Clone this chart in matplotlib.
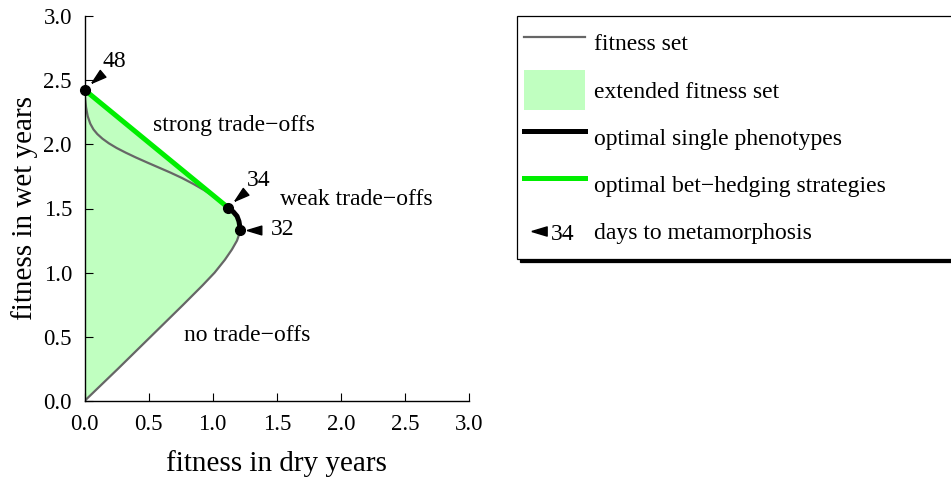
import matplotlib
matplotlib.use("Agg")
import matplotlib.pyplot as plt
from matplotlib.lines import Line2D
from matplotlib.patches import Patch
from matplotlib.markers import MarkerStyle
from matplotlib.transforms import Affine2D, offset_copy
from matplotlib.legend_handler import HandlerBase
from matplotlib.text import Text

plt.rcParams["font.family"] = ["Liberation Serif", "DejaVu Serif"]

# ── Fitness set ──────────────────────────────────────────
# upper branch: 48 days -> 34 days
upper_x = [0.0, 0.004, 0.012, 0.025, 0.045, 0.07, 0.10, 0.14, 0.19, 0.25, 0.32,
           0.40, 0.49, 0.58, 0.67, 0.76, 0.85, 0.93, 1.00, 1.06, 1.12]
upper_y = [2.425, 2.361, 2.289, 2.219, 2.161, 2.116, 2.080, 2.044, 2.008, 1.972, 1.936,
           1.898, 1.858, 1.819, 1.780, 1.738, 1.691, 1.645, 1.599, 1.556, 1.507]
# optimal single phenotypes: 34 days -> 32 days
single_x = [1.12, 1.16, 1.19, 1.205, 1.21, 1.213]
single_y = [1.507, 1.475, 1.44, 1.40, 1.37, 1.333]
# lower branch: 32 days -> origin
lower_x = [1.213, 1.207, 1.19, 1.15, 1.095, 1.015, 0.92, 0.77, 0.515, 0.26, 0.0]
lower_y = [1.333, 1.30, 1.25, 1.18, 1.10, 1.00, 0.90, 0.75, 0.50, 0.25, 0.0]

# days to metamorphosis markers
days = [48, 34, 32]
day_x = [0.0, 1.12, 1.213]
day_y = [2.425, 1.507, 1.333]

# region labels
region_text = ["strong trade\u2212offs", "weak trade\u2212offs", "no trade\u2212offs"]
region_x = [1.166, 2.12, 1.27]
region_y = [2.15, 1.567, 0.51]

GREEN_FILL = "#c0ffc0"
GREEN_LINE = "#00ee00"
GREY = "#666666"


def arrowhead(angle):
    verts = [(-1, 0), (1, 0.6), (1, -0.6), (-1, 0)]
    return MarkerStyle(verts, transform=Affine2D().rotate_deg(angle))


class DaysKey:
    pass


class DaysHandler(HandlerBase):
    def create_artists(self, legend, orig_handle, xdescent, ydescent,
                       width, height, fontsize, trans):
        yc = height / 2 - ydescent
        mark = Line2D([0.24 * width - xdescent], [yc], marker=arrowhead(0), ms=11,
                      color="black", ls="none", transform=trans)
        txt = Text(0.44 * width - xdescent, yc - 0.15 * fontsize, "34", fontsize=fontsize,
                   ha="left", va="center", transform=trans)
        return [mark, txt]


fig = plt.figure(figsize=(9.51, 4.79), dpi=100)
ax = fig.add_axes([84.5 / 951, 78 / 479, 384.5 / 951, 385 / 479])

# extended fitness set
fill_x = lower_x[::-1] + single_x[::-1][1:] + [0.0]
fill_y = lower_y[::-1] + single_y[::-1][1:] + [upper_y[0]]
ax.fill(fill_x, fill_y, color=GREEN_FILL, lw=0, zorder=1)

# fitness set curve
curve_x = upper_x + single_x[1:] + lower_x[1:]
curve_y = upper_y + single_y[1:] + lower_y[1:]
ax.plot(curve_x, curve_y, color=GREY, lw=1.6, zorder=2)

# bet-hedging line and optimal single phenotypes
ax.plot([day_x[0], day_x[1]], [day_y[0], day_y[1]], color=GREEN_LINE, lw=3.6,
        solid_capstyle="butt", zorder=3)
ax.plot(single_x, single_y, color="black", lw=3.6, solid_capstyle="round", zorder=4)
ax.plot(day_x, day_y, "o", color="black", ms=7, zorder=5, clip_on=False)

# arrowheads and day labels
tri_off = [(12, 12, 40), (12, 12, 40), (14.5, 0, 0)]
lab_off = [(30, 28, "center"), (31, 27, "center"), (31, 0, "left")]
for d, x, y, (ox, oy, ang), (lx, ly, ha) in zip(days, day_x, day_y, tri_off, lab_off):
    tr = offset_copy(ax.transData, fig=fig, x=ox, y=oy, units="dots")
    ax.plot([x], [y], marker=arrowhead(ang), ms=10.5, color="black", ls="none",
            transform=tr, clip_on=False, zorder=6)
    ax.annotate(str(d), (x, y), xytext=(lx, ly), textcoords="offset pixels",
                ha=ha, va="center", fontsize=17)

for t, x, y in zip(region_text, region_x, region_y):
    ax.text(x, y, t, ha="center", va="center", fontsize=17)

ax.set_xlim(0, 3)
ax.set_ylim(0, 3)
ax.set_xticks([0, 0.5, 1, 1.5, 2, 2.5, 3])
ax.set_yticks([0, 0.5, 1, 1.5, 2, 2.5, 3])
ax.set_xticklabels(["0.0", "0.5", "1.0", "1.5", "2.0", "2.5", "3.0"])
ax.set_yticklabels(["0.0", "0.5", "1.0", "1.5", "2.0", "2.5", "3.0"])
ax.tick_params(direction="in", length=6, width=0.8, pad=9, labelsize=16.5)
for s in ["top", "right"]:
    ax.spines[s].set_visible(False)
for s in ["left", "bottom"]:
    ax.spines[s].set_linewidth(1.0)
ax.set_xlabel("fitness in dry years", fontsize=21, labelpad=11)
ax.set_ylabel("fitness in wet years", fontsize=21, labelpad=4)

# ── Legend ───────────────────────────────────────────────
handles = [
    Line2D([], [], color=GREY, lw=1.6),
    Patch(facecolor=GREEN_FILL, edgecolor="none"),
    Line2D([], [], color="black", lw=3.6),
    Line2D([], [], color=GREEN_LINE, lw=3.6),
    DaysKey(),
]
labels = ["fitness set", "extended fitness set", "optimal single phenotypes",
          "optimal bet\u2212hedging strategies", "days to metamorphosis"]
leg = fig.legend(handles, labels, handler_map={DaysKey: DaysHandler()},
                 loc="upper left", bbox_to_anchor=(517 / 951, 1 - 16 / 479, 0.6, 0),
                 mode="expand", borderaxespad=0, fontsize=17, handlelength=2.6,
                 handleheight=2.23, labelspacing=0.3, borderpad=0.3, handletextpad=0.36,
                 fancybox=False, edgecolor="black", framealpha=1,
                 shadow={"ox": 2.2, "oy": -2.2, "color": "black", "alpha": 1})
leg.get_frame().set_linewidth(0.9)

fig.savefig("out.png", dpi=100)
